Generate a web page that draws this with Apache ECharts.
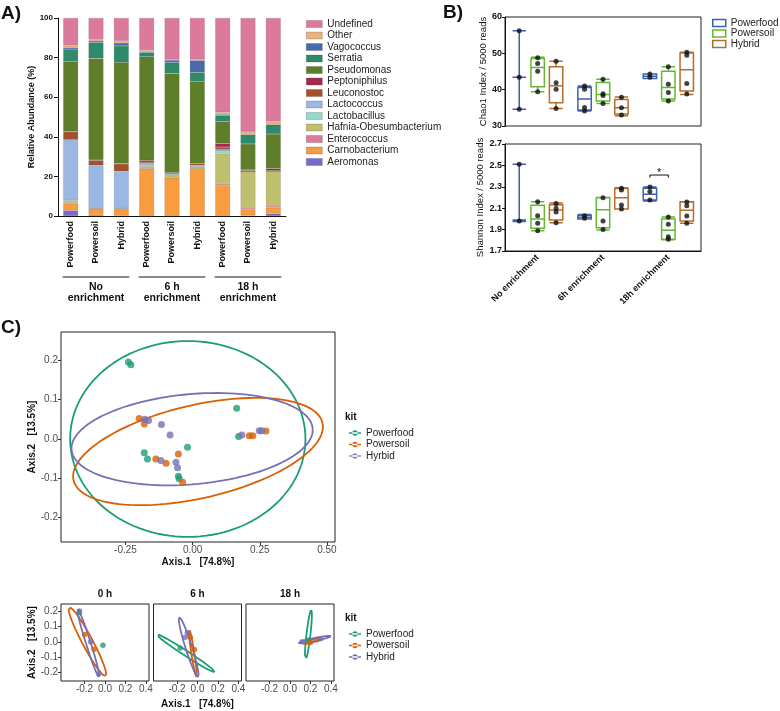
<!DOCTYPE html>
<html>
<head>
<meta charset="utf-8">
<script src="https://cdn.jsdelivr.net/npm/echarts@6/dist/echarts.min.js"></script>
<style>
  html, body { margin: 0; padding: 0; background: #fff; }
  #chart { width: 780px; height: 711px; }
</style>
</head>
<body>
<div id="chart"></div>
<script>
const FONT = '"Liberation Sans", Arial, Helvetica, sans-serif';

// ---------- A) relative abundance ----------
const samples = ['Powerfood', 'Powersoil', 'Hybrid', 'Powerfood', 'Powersoil', 'Hybrid', 'Powerfood', 'Powersoil', 'Hybrid'];
const timeGroups = ['No\nenrichment', '6 h\nenrichment', '18 h\nenrichment'];
// stacked bottom -> top
const taxa = ['Aeromonas', 'Carnobacterium', 'Enterococcus', 'Hafnia-Obesumbacterium', 'Lactobacillus',
  'Lactococcus', 'Leuconostoc', 'Peptoniphilus', 'Pseudomonas', 'Serratia', 'Vagococcus', 'Other', 'Undefined'];
const taxaColors = ['#7B68C8', '#F99B3F', '#E0789C', '#BFC06F', '#90DCCB', '#9BB7E2', '#A5502D',
  '#A8284F', '#5F7E29', '#2F8A6B', '#4A6BAA', '#EBB27E', '#DB7A9C'];
const aeromonas     = [2.8, 0.5, 0.2, 0, 0, 0, 0, 0.3, 1.2];
const carnobacterium = [3.6, 3.2, 3.1, 24.0, 19.3, 23.5, 15.6, 2.9, 3.0];
const enterococcus  = [0.3, 0.2, 0.2, 0.2, 0.1, 0.1, 0.6, 0.8, 0.8];
const hafnia        = [0.8, 0.2, 0.2, 0.9, 1.2, 1.0, 15.3, 18.5, 17.6];
const lactobacillus = [0.4, 0.1, 0.1, 0.4, 0.2, 0.2, 1.2, 0, 0];
const lactococcus   = [30.6, 21.4, 18.8, 1.3, 0.4, 0.8, 0.8, 0, 0];
const leuconostoc   = [4.0, 2.5, 3.7, 1.3, 0.5, 0.9, 1.3, 0.5, 0.5];
const peptoniphilus = [0.2, 0.2, 0.2, 0.1, 0.1, 0.1, 1.7, 0.3, 0.9];
const pseudomonas   = [35.2, 51.3, 51.1, 52.2, 50.2, 41.2, 11.2, 13.1, 17.4];
const serratia      = [6.4, 8.0, 8.3, 2.2, 5.4, 4.7, 3.1, 4.6, 4.7];
const vagococcus    = [0.8, 0.8, 1.5, 0.3, 1.3, 6.1, 0.5, 0, 0];
const other         = [1.0, 0.7, 1.0, 0.9, 0.5, 0.5, 1.1, 1.4, 1.6];
const undefinedTaxa = [13.9, 10.9, 11.6, 16.2, 20.8, 20.9, 47.6, 57.6, 52.3];
const abundance = [aeromonas, carnobacterium, enterococcus, hafnia, lactobacillus, lactococcus,
  leuconostoc, peptoniphilus, pseudomonas, serratia, vagococcus, other, undefinedTaxa];

// ---------- B) alpha diversity, [min, Q1, median, Q3, max] ----------
const enrichGroups = ['No enrichment', '6h enrichment', '18h enrichment'];
const kitsB = ['Powerfood', 'Powersoil', 'Hybrid'];
const kitColorsB = ['#3F5FAF', '#62B832', '#B46D2C'];
const chaoPowerfood = [[34.6, 43.4, 43.4, 43.4, 56.2], [34.1, 34.4, 37.4, 40.6, 41.0], [43.1, 43.1, 43.7, 44.3, 44.3]];
const chaoPowersoil = [[39.4, 40.8, 46.1, 48.6, 48.9], [36.2, 36.9, 38.7, 42.0, 42.9], [36.9, 37.4, 40.6, 45.1, 46.3]];
const chaoHybrid    = [[34.8, 36.4, 41.1, 46.3, 47.8], [32.8, 33.3, 35.0, 37.3, 38.0], [38.7, 39.6, 45.5, 50.1, 50.3]];
const chaoPtsPowerfood = [[56.2, 43.4, 34.6], [41.0, 40.1, 35.1, 34.1], [44.3, 43.4]];
const chaoPtsPowersoil = [[48.8, 47.2, 45.1, 39.4], [42.9, 38.9, 38.4, 36.2], [46.3, 41.5, 39.2, 36.9]];
const chaoPtsHybrid    = [[47.8, 41.9, 40.1, 34.8], [37.9, 35.0, 33.0], [50.3, 49.5, 41.7, 38.8]];
const shanPowerfood = [[1.975, 1.99, 1.99, 1.99, 2.51], [2.0, 2.0, 2.015, 2.033, 2.04], [2.167, 2.177, 2.23, 2.286, 2.298]];
const shanPowersoil = [[1.89, 1.912, 2.0, 2.127, 2.161], [1.896, 1.918, 2.086, 2.198, 2.2], [1.806, 1.81, 1.893, 2.0, 2.018]];
const shanHybrid    = [[1.965, 1.99, 2.083, 2.133, 2.149], [2.092, 2.092, 2.198, 2.283, 2.29], [1.96, 1.98, 2.08, 2.158, 2.16]];
const shanPtsPowerfood = [[2.51, 1.98], [2.03, 2.005], [2.298, 2.255, 2.177]];
const shanPtsPowersoil = [[2.16, 2.03, 1.96, 1.89], [2.198, 1.98, 1.90], [2.018, 1.95, 1.834, 1.81]];
const shanPtsHybrid    = [[2.145, 2.10, 2.065, 1.965], [2.286, 2.27, 2.13, 2.092], [2.158, 2.124, 2.027, 1.96]];
const shanTicks = [1.7, 1.9, 2.1, 2.3, 2.5, 2.7];

// ---------- C) PCoA ----------
const kitsC = ['Powerfood', 'Powersoil', 'Hyrbid'];
const kitColorsC = ['#1B9E77', '#D95F02', '#7570B3'];
const pcoaPowerfood = [[-0.239, 0.196], [-0.230, 0.189], [0.164, 0.078], [0.171, 0.006], [-0.180, -0.035],
  [-0.168, -0.051], [-0.019, -0.021], [-0.053, -0.095], [-0.050, -0.101]];
const pcoaPowersoil = [[-0.199, 0.052], [-0.180, 0.038], [-0.137, -0.051], [-0.099, -0.062], [-0.053, -0.038],
  [-0.037, -0.110], [0.211, 0.008], [0.224, 0.008], [0.273, 0.020]];
const pcoaHybrid = [[-0.178, 0.050], [-0.164, 0.047], [-0.116, 0.037], [-0.084, 0.010], [-0.118, -0.055],
  [-0.062, -0.059], [-0.056, -0.073], [0.183, 0.010], [0.248, 0.021], [0.257, 0.021]];
// ellipse: [cx, cy, ux, uy, vx, vy] (centre + two conjugate semi-axes)
const ellPowerfood = [-0.018, 0.0, 0.438, 0.0, 0, 0.249];
const ellPowersoil = [0.02, -0.032, 0.465, 0.063, 0, 0.121];
const ellHybrid = [-0.002, -0.0005, 0.449, 0.0235, 0, 0.115];
const mainXTicks = [-0.25, 0, 0.25, 0.5];
const axisYTicks = [-0.2, -0.1, 0, 0.1, 0.2];

const facetTitles = ['0 h', '6 h', '18 h'];
const kitsFacet = ['Powerfood', 'Powersoil', 'Hybrid'];
const facetPtsPowerfood = [[[-0.02, -0.022], [-0.25, 0.19]], [[-0.17, -0.04]], [[0.175, 0.01]]];
const facetPtsPowersoil = [[[-0.197, 0.048], [-0.107, -0.048]], [[-0.07, 0.03], [-0.03, -0.05]], [[0.2, -0.005], [0.27, 0.015]]];
const facetPtsHybrid = [[[-0.25, 0.2], [-0.14, 0.0], [-0.06, -0.21]], [[-0.12, 0.03], [-0.1, 0.06]], [[0.12, 0.0], [0.3, 0.02]]];
const facetEllPowerfood = [null, [-0.115, -0.074, 0.283, -0.122, 0.013, 0.014], [0.18, 0.046, 0.028, 0.161, 0.019, -0.0015]];
const facetEllPowersoil = [[-0.172, 0.001, 0.178, -0.223, 0.045, 0.016], [-0.046, -0.073, 0.036, -0.156, 0.0144, 0.0015],
  [0.215, 0.005, 0.089, 0.016, 0.0037, -0.0095]];
const facetEllHybrid = [[-0.163, -0.008, 0.105, -0.221, 0.022, 0.005], [-0.086, -0.035, 0.092, -0.194, 0.030, 0.0066],
  [0.236, 0.015, 0.165, 0.022, 0.0029, -0.0096]];
const facetXTicks = [-0.2, 0, 0.2, 0.4];

function ellipsePath(e) {
  const pts = [];
  for (let i = 0; i <= 120; i++) {
    const t = i / 120 * 2 * Math.PI;
    pts.push([e[0] + e[2] * Math.cos(t) + e[4] * Math.sin(t), e[1] + e[3] * Math.cos(t) + e[5] * Math.sin(t)]);
  }
  return pts;
}

const chart = echarts.init(document.getElementById('chart'), null, { renderer: 'canvas' });

const boldTick = { fontFamily: FONT, fontWeight: 'bold', color: '#111' };
const ggLabel = { fontFamily: FONT, fontSize: 10, color: '#4D4D4D' };
const blackLine = { lineStyle: { color: '#111', width: 1 } };
const hiddenLine = { show: false, onZero: false };
const facetLeft = [61, 153.5, 246];

const xAxes = [
  { // 0: A
    type: 'category', gridIndex: 0, data: samples,
    axisLine: blackLine, axisTick: { alignWithLabel: true, length: 4, lineStyle: { color: '#111' } },
    axisLabel: Object.assign({ rotate: 90, fontSize: 9, margin: 5, interval: 0 }, boldTick)
  },
  { type: 'category', gridIndex: 1, data: enrichGroups, show: false },                  // 1: chao boxes
  { type: 'value', gridIndex: 1, min: 0, max: 3, show: false },                          // 2: chao dots
  { // 3: shannon boxes
    type: 'category', gridIndex: 2, data: enrichGroups,
    axisLine: blackLine, axisTick: { alignWithLabel: true, length: 4, lineStyle: { color: '#111' } },
    axisLabel: Object.assign({ rotate: 45, fontSize: 9, margin: 5, interval: 0 }, boldTick)
  },
  { type: 'value', gridIndex: 2, min: 0, max: 3, show: false },                          // 4: shannon dots
  { // 5: C main
    type: 'value', gridIndex: 3, min: -0.49, max: 0.53, splitLine: { show: false },
    name: 'Axis.1   [74.8%]', nameLocation: 'middle', nameGap: 15,
    nameTextStyle: { fontFamily: FONT, fontWeight: 'bold', fontSize: 10, color: '#111' },
    axisLine: hiddenLine,
    axisTick: { customValues: mainXTicks, length: 3, lineStyle: { color: '#333' } },
    axisLabel: Object.assign({ customValues: mainXTicks, margin: 3, formatter: v => v.toFixed(2) }, ggLabel)
  }
];
facetLeft.forEach((l, i) => {
  xAxes.push({
    type: 'value', gridIndex: 4 + i, min: -0.43, max: 0.43, splitLine: { show: false },
    name: i === 1 ? 'Axis.1   [74.8%]' : '', nameLocation: 'middle', nameGap: 18,
    nameTextStyle: { fontFamily: FONT, fontWeight: 'bold', fontSize: 10, color: '#111' },
    axisLine: hiddenLine,
    axisTick: { customValues: facetXTicks, length: 3, lineStyle: { color: '#333' } },
    axisLabel: Object.assign({ customValues: facetXTicks, margin: 3, formatter: v => v.toFixed(1) }, ggLabel)
  });
});

const yAxes = [
  { // 0: A
    type: 'value', gridIndex: 0, min: 0, max: 100, interval: 20, splitLine: { show: false },
    name: 'Relative Abundance (%)', nameLocation: 'middle', nameGap: 22,
    nameTextStyle: Object.assign({ fontSize: 9 }, boldTick),
    axisLine: { show: true, lineStyle: { color: '#111', width: 1 } },
    axisTick: { show: true, length: 4, lineStyle: { color: '#111' } },
    axisLabel: Object.assign({ fontSize: 8, margin: 5 }, boldTick)
  },
  { // 1: chao
    type: 'value', gridIndex: 1, min: 30, max: 60, interval: 10, splitLine: { show: false },
    name: 'Chao1 Index / 5000 reads', nameLocation: 'middle', nameGap: 17,
    nameTextStyle: { fontFamily: FONT, fontSize: 9.5, color: '#111' },
    axisLine: { show: true, lineStyle: { color: '#111' } },
    axisTick: { show: true, length: 3, lineStyle: { color: '#111' } },
    axisLabel: Object.assign({ fontSize: 9, margin: 3 }, boldTick)
  },
  { // 2: shannon
    type: 'value', gridIndex: 2, min: 1.7, max: 2.7, splitLine: { show: false },
    name: 'Shannon Index / 5000 reads', nameLocation: 'middle', nameGap: 20,
    nameTextStyle: { fontFamily: FONT, fontSize: 9.5, color: '#111' },
    axisLine: { show: true, lineStyle: { color: '#111' } },
    axisTick: { show: true, length: 3, customValues: shanTicks, lineStyle: { color: '#111' } },
    axisLabel: Object.assign({ fontSize: 9, margin: 3, customValues: shanTicks, formatter: v => v.toFixed(1) }, boldTick)
  },
  { // 3: C main
    type: 'value', gridIndex: 3, min: -0.262, max: 0.272, splitLine: { show: false },
    name: 'Axis.2   [13.5%]', nameLocation: 'middle', nameGap: 24,
    nameTextStyle: { fontFamily: FONT, fontWeight: 'bold', fontSize: 10, color: '#111' },
    axisLine: hiddenLine,
    axisTick: { customValues: axisYTicks, length: 3, lineStyle: { color: '#333' } },
    axisLabel: Object.assign({ customValues: axisYTicks, margin: 3, formatter: v => v.toFixed(1) }, ggLabel)
  }
];
facetLeft.forEach((l, i) => {
  yAxes.push({
    type: 'value', gridIndex: 4 + i, min: -0.255, max: 0.246, splitLine: { show: false },
    name: i === 0 ? 'Axis.2   [13.5%]' : '', nameLocation: 'middle', nameGap: 24,
    nameTextStyle: { fontFamily: FONT, fontWeight: 'bold', fontSize: 10, color: '#111' },
    axisLine: hiddenLine,
    axisTick: { show: i === 0, customValues: axisYTicks, length: 3, lineStyle: { color: '#333' } },
    axisLabel: Object.assign({ show: i === 0, customValues: axisYTicks, margin: 3, formatter: v => v.toFixed(1) }, ggLabel)
  });
});

const frame = { show: true, borderColor: '#222', borderWidth: 1, backgroundColor: 'transparent' };
const grids = [
  { left: 58, top: 18, width: 228, height: 198 },
  Object.assign({ left: 505, top: 17, width: 196, height: 109 }, frame),
  Object.assign({ left: 505, top: 144, width: 196, height: 107 }, frame),
  Object.assign({ left: 61, top: 332, width: 274, height: 210 }, frame)
];
facetLeft.forEach(l => grids.push(Object.assign({ left: l, top: 604, width: 88, height: 77 }, frame)));

const series = [];
// A bars
taxa.forEach((t, i) => {
  series.push({
    name: t, type: 'bar', stack: 'abund', xAxisIndex: 0, yAxisIndex: 0, barWidth: 15,
    data: abundance[i],
    itemStyle: { color: taxaColors[i], borderColor: 'rgba(60,60,60,0.25)', borderWidth: 0.5 }
  });
});

// B boxes + dots
const boxOffset = [-0.2824, 0, 0.2824];
function addBoxes(boxSets, ptSets, xBox, xDot, yIdx) {
  kitsB.forEach((k, ki) => {
    series.push({
      name: k, type: 'boxplot', xAxisIndex: xBox, yAxisIndex: yIdx, data: boxSets[ki],
      itemStyle: { color: '#fff', borderColor: kitColorsB[ki], borderWidth: 1.5 },
      emphasis: { disabled: true }
    });
  });
  kitsB.forEach((k, ki) => {
    const pts = [];
    ptSets[ki].forEach((vals, g) => vals.forEach(v => pts.push([g + 0.5 + boxOffset[ki], v])));
    series.push({
      name: k + ' pts', type: 'scatter', xAxisIndex: xDot, yAxisIndex: yIdx, data: pts,
      symbolSize: 5, itemStyle: { color: '#111' }, z: 5
    });
  });
}
addBoxes([chaoPowerfood, chaoPowersoil, chaoHybrid], [chaoPtsPowerfood, chaoPtsPowersoil, chaoPtsHybrid], 1, 2, 1);
addBoxes([shanPowerfood, shanPowersoil, shanHybrid], [shanPtsPowerfood, shanPtsPowersoil, shanPtsHybrid], 3, 4, 2);
// significance bracket between Powerfood and Powersoil at 18h
const bx1 = 2.5 + boxOffset[0], bx2 = 2.5 + boxOffset[1];
series.push({
  type: 'line', xAxisIndex: 4, yAxisIndex: 2, symbol: 'none', silent: true,
  data: [[bx1, 2.385], [bx1, 2.41], [bx2, 2.41], [bx2, 2.385]],
  lineStyle: { color: '#111', width: 1 },
  markPoint: {
    symbol: 'circle', symbolSize: 0,
    label: { show: true, formatter: '*', fontFamily: FONT, fontSize: 11, color: '#111', offset: [0, 0] },
    data: [{ coord: [(bx1 + bx2) / 2, 2.43] }]
  }
});

// C main
const mainPts = [pcoaPowerfood, pcoaPowersoil, pcoaHybrid];
const mainEll = [ellPowerfood, ellPowersoil, ellHybrid];
kitsC.forEach((k, ki) => {
  series.push({
    name: k + ' ellipse', type: 'line', xAxisIndex: 5, yAxisIndex: 3, data: ellipsePath(mainEll[ki]),
    symbol: 'none', silent: true, lineStyle: { color: kitColorsC[ki], width: 1.8 }
  });
  series.push({
    name: k, type: 'scatter', xAxisIndex: 5, yAxisIndex: 3, data: mainPts[ki],
    symbolSize: 7, itemStyle: { color: kitColorsC[ki] }, z: 4
  });
});

// C facets
const facetPts = [facetPtsPowerfood, facetPtsPowersoil, facetPtsHybrid];
const facetEll = [facetEllPowerfood, facetEllPowersoil, facetEllHybrid];
facetTitles.forEach((ft, fi) => {
  kitsFacet.forEach((k, ki) => {
    const e = facetEll[ki][fi];
    if (e) {
      series.push({
        name: k + ' ellipse ' + ft, type: 'line', xAxisIndex: 6 + fi, yAxisIndex: 4 + fi,
        data: ellipsePath(e), symbol: 'none', silent: true,
        lineStyle: { color: kitColorsC[ki], width: 1.8 }
      });
    }
    series.push({
      name: k, type: 'scatter', xAxisIndex: 6 + fi, yAxisIndex: 4 + fi, data: facetPts[ki][fi],
      symbolSize: 5.5, itemStyle: { color: kitColorsC[ki] }, z: 4
    });
  });
});

const lineDot = 'path://M0,3.3h12v1.4h-12z M3.3,4a2.7,2.7 0 1,0 5.4,0a2.7,2.7 0 1,0 -5.4,0z';
const legendText = { fontFamily: FONT, fontSize: 10, color: '#222' };

chart.setOption({
  animation: false,
  textStyle: { fontFamily: FONT },
  grid: grids,
  xAxis: xAxes,
  yAxis: yAxes,
  legend: [
    {
      left: 301, top: 14, orient: 'vertical', itemWidth: 16, itemHeight: 7, itemGap: 1.5,
      selectedMode: false, icon: 'rect', textStyle: legendText,
      data: taxa.slice().reverse().map(t => ({
        name: t, itemStyle: { color: taxaColors[taxa.indexOf(t)], borderColor: 'rgba(60,60,60,0.4)', borderWidth: 0.6 }
      }))
    },
    {
      left: 707, top: 13, orient: 'vertical', itemWidth: 13, itemHeight: 7, itemGap: 0.5,
      selectedMode: false, icon: 'rect', textStyle: legendText,
      data: kitsB.map((k, i) => ({ name: k, itemStyle: { color: '#fff', borderColor: kitColorsB[i], borderWidth: 1.5 } }))
    },
    {
      left: 344, top: 423, orient: 'vertical', itemWidth: 12, itemHeight: 6, itemGap: 1.5,
      selectedMode: false, icon: lineDot, textStyle: legendText,
      data: kitsC.map((k, i) => ({ name: k, itemStyle: { color: kitColorsC[i], borderWidth: 0 } }))
    },
    {
      left: 344, top: 624, orient: 'vertical', itemWidth: 12, itemHeight: 6, itemGap: 1.5,
      selectedMode: false, icon: lineDot, textStyle: legendText,
      data: kitsFacet.map((k, i) => ({ name: k, itemStyle: { color: kitColorsC[i], borderWidth: 0 } }))
    }
  ],
  series: series
});

// panel letters, group brackets, facet strips
const gfx = [];
const bigText = (t, x, y) => ({ type: 'text', left: x, top: y, style: { text: t, font: 'bold 19px ' + FONT, fill: '#111' } });
gfx.push(bigText('A)', 1, 4), bigText('B)', 443, 3), bigText('C)', 1, 318));
timeGroups.forEach((g, gi) => {
  const x1 = chart.convertToPixel({ xAxisIndex: 0, yAxisIndex: 0 }, [gi * 3, 0])[0] - 8;
  const x2 = chart.convertToPixel({ xAxisIndex: 0, yAxisIndex: 0 }, [gi * 3 + 2, 0])[0] + 8;
  gfx.push({ type: 'line', shape: { x1: x1, y1: 277, x2: x2, y2: 277 }, style: { stroke: '#8a8a8a', lineWidth: 2 } });
  gfx.push({
    type: 'text', x: (x1 + x2) / 2, y: 281,
    style: { text: g, font: 'bold 10.5px ' + FONT, fill: '#111', align: 'center', verticalAlign: 'top', lineHeight: 11.5 }
  });
});
facetTitles.forEach((ft, fi) => {
  gfx.push({
    type: 'text', x: facetLeft[fi] + 44, y: 594,
    style: { text: ft, font: 'bold 10px ' + FONT, fill: '#111', align: 'center', verticalAlign: 'middle' }
  });
});
gfx.push({ type: 'text', x: 345, y: 417, style: { text: 'kit', font: 'bold 10px ' + FONT, fill: '#111', verticalAlign: 'middle' } });
gfx.push({ type: 'text', x: 345, y: 618, style: { text: 'kit', font: 'bold 10px ' + FONT, fill: '#111', verticalAlign: 'middle' } });
chart.setOption({ graphic: gfx });
</script>
</body>
</html>
